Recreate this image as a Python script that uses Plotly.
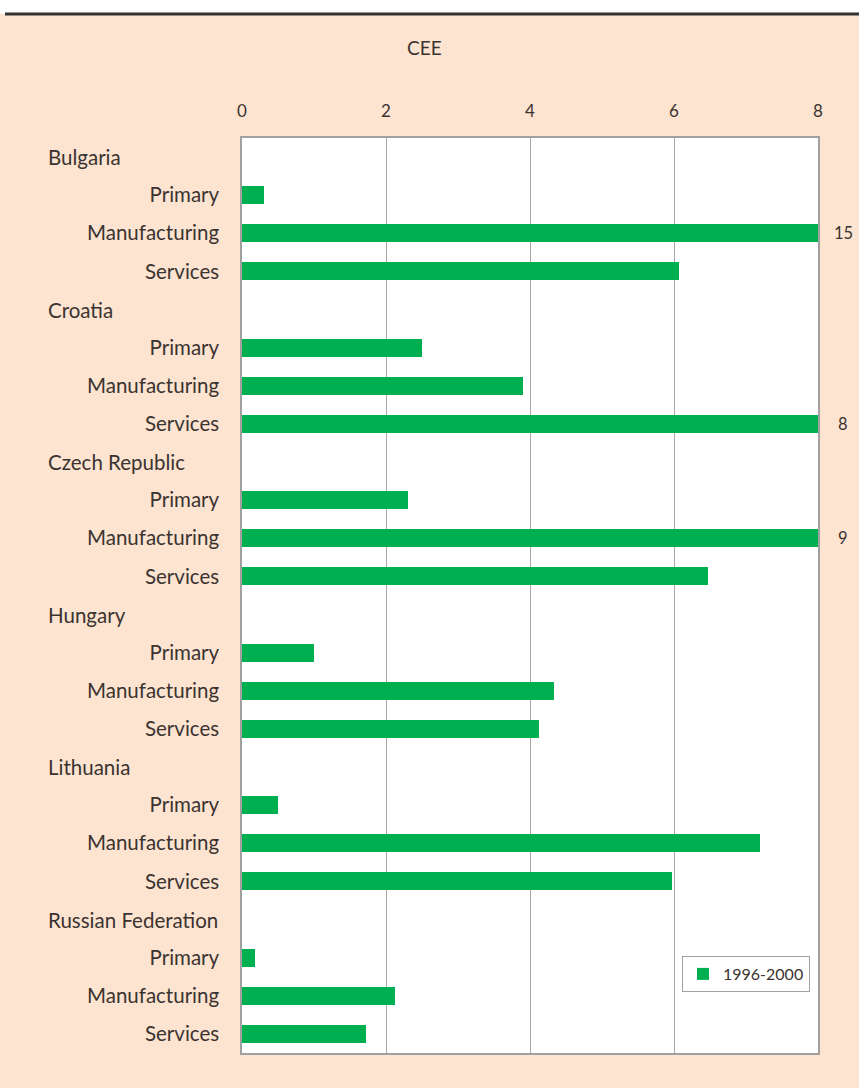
import plotly.graph_objects as go

countries = ["Bulgaria", "Croatia", "Czech Republic", "Hungary", "Lithuania", "Russian Federation"]
sectors = ["Primary", "Manufacturing", "Services"]
values_1996_2000 = [
    [0.3, 15, 6.07],
    [2.5, 3.9, 8],
    [2.3, 9, 6.47],
    [1.0, 4.33, 4.12],
    [0.5, 7.2, 5.97],
    [0.18, 2.12, 1.72],
]
series_name = "1996-2000"
x_ticks = [0, 2, 4, 6, 8]
x_max = 8

W, H = 859, 1088
ml, mr, mt, mb = 242, 41, 138, 35
peach = "#FDE4D0"
green = "#00B050"
txt = "#3b3330"
font_family = "Lato, Open Sans, sans-serif"

# build row positions
ys, xs, tickvals, ticktext, country_rows = [], [], [], [], []
row = 0
for c, vals in zip(countries, values_1996_2000):
    country_rows.append((c, row))
    row += 1
    for s, v in zip(sectors, vals):
        ys.append(row)
        xs.append(v)
        tickvals.append(row)
        ticktext.append(s)
        row += 1
n_rows = row

fig = go.Figure()
fig.add_trace(go.Bar(
    x=xs, y=ys, orientation="h", width=0.47,
    marker=dict(color=green, line=dict(width=0)),
    name=series_name, showlegend=True,
))

pw = W - ml - mr
ph = H - mt - mb

annotations = []
for c, r in country_rows:
    annotations.append(dict(
        x=(46 - ml) / pw, xref="paper", xanchor="left",
        y=r, yref="y", yanchor="middle",
        text=c, showarrow=False, font=dict(size=20.5, color=txt, family=font_family),
    ))
for x, y in zip(xs, ys):
    if x >= x_max:
        annotations.append(dict(
            x=x_max, xref="x", xanchor="center", xshift=25,
            y=y, yref="y", yanchor="middle",
            text=f"{x:g}", showarrow=False, font=dict(size=16.5, color=txt, family=font_family),
        ))
annotations.append(dict(
    x=(424 - ml) / pw, xref="paper", xanchor="center",
    y=(H - mb - 48) / ph, yref="paper", yanchor="middle",
    text="CEE", showarrow=False, font=dict(size=19, color=txt, family=font_family),
))

shapes = [
    dict(type="rect", xref="paper", yref="paper", layer="below",
         x0=-ml / pw, x1=1 + mr / pw,
         y0=(H - mb - 14) / ph, y1=(H - mb) / ph + 0.01,
         fillcolor="white", line=dict(width=0)),
    dict(type="line", xref="paper", yref="paper",
         x0=(5 - ml) / pw, x1=1 + mr / pw,
         y0=(H - mb - 14) / ph, y1=(H - mb - 14) / ph,
         line=dict(color="#333333", width=3)),
]

fig.update_layout(
    width=W, height=H,
    margin=dict(l=ml, r=mr, t=mt, b=mb),
    paper_bgcolor=peach, plot_bgcolor="white",
    font=dict(family=font_family, color=txt, size=20.5),
    bargap=0,
    xaxis=dict(
        side="top", range=[0, x_max], tickvals=x_ticks,
        showgrid=True, gridcolor="#a8a8a8", gridwidth=1,
        showline=True, mirror=True, linecolor="#a0a0a0", linewidth=1.5,
        zeroline=False, ticks="", ticklabelstandoff=12,
        tickfont=dict(size=17, color=txt),
        fixedrange=True,
    ),
    yaxis=dict(
        range=[n_rows - 0.5, -0.5], tickvals=tickvals, ticktext=ticktext,
        showgrid=False, zeroline=False,
        showline=True, mirror=True, linecolor="#a0a0a0", linewidth=1.5,
        ticks="", ticklabelstandoff=17,
        tickfont=dict(size=20.5, color=txt),
    ),
    legend=dict(
        x=(682 - ml) / pw, y=(H - mb - 956) / ph,
        xanchor="left", yanchor="top",
        bgcolor="white", bordercolor="#a0a0a0", borderwidth=1,
        font=dict(size=16, color=txt), itemwidth=30,
    ),
    annotations=annotations,
    shapes=shapes,
)

fig.write_html(
    "out.html",
    config={"displayModeBar": False},
    post_script="document.body.style.margin='0';document.body.style.overflow='hidden';",
)
